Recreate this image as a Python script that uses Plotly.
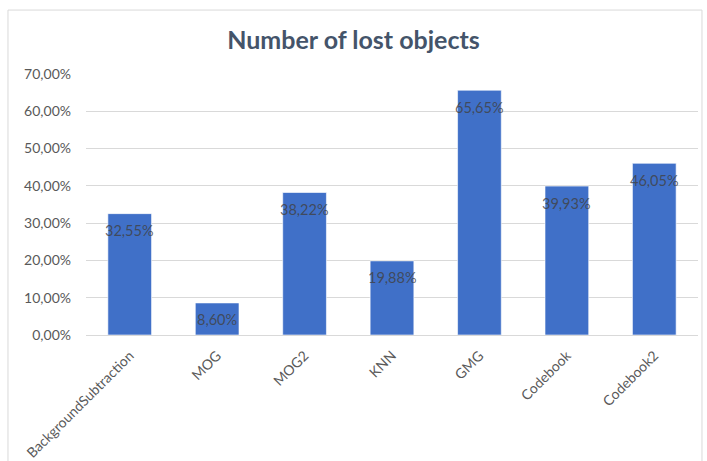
import plotly.graph_objects as go

# Lost-object rate per background subtraction method
methods = ["BackgroundSubtraction", "MOG", "MOG2", "KNN", "GMG", "Codebook", "Codebook2"]
lost_rate = [0.3255, 0.0860, 0.3822, 0.1988, 0.6565, 0.3993, 0.4605]
y_ticks = [0.0, 0.1, 0.2, 0.3, 0.4, 0.5, 0.6, 0.7]

BAR = "#4070C8"
GRID = "#D9D9D9"
TICK = "#595959"

fig = go.Figure(
    go.Bar(
        x=methods,
        y=lost_rate,
        marker=dict(color=BAR, line=dict(color="rgba(255,255,255,0.6)", width=1)),
        hoverinfo="x+y",
    )
)

# value labels sit just inside the top of each bar
for m, v in zip(methods, lost_rate):
    fig.add_annotation(
        x=m, y=v, text=f"{v * 100:.2f}%".replace(".", ","),
        showarrow=False, yanchor="middle", yshift=-17,
        font=dict(family="Lato", size=14.5, color="rgba(64,64,64,0.8)"),
    )

# outer chart border
fig.add_shape(
    type="rect", xref="paper", yref="paper",
    x0=-0.1275, x1=1.0065, y0=-0.55, y1=1.245,
    line=dict(color=GRID, width=1), fillcolor="rgba(0,0,0,0)", layer="below",
)

fig.update_layout(
    width=707, height=461,
    margin=dict(l=86, r=9, t=74, b=126, autoexpand=False),
    paper_bgcolor="white", plot_bgcolor="white",
    separators=", ",
    bargap=0.5,
    showlegend=False,
    title=dict(
        text="<b>Number of lost objects</b>",
        x=0.5, xref="container", xanchor="center",
        y=1 - 40 / 461, yref="container", yanchor="middle",
        font=dict(family="Lato", size=25, color="#44546A"),
    ),
    xaxis=dict(
        tickangle=-45,
        tickfont=dict(family="Lato", size=14, color=TICK),
        showline=True, linecolor=GRID, linewidth=1,
        showgrid=False, ticks="", automargin=False,
        ticklabelstandoff=6,
    ),
    yaxis=dict(
        range=[0, 0.7],
        tickvals=y_ticks,
        tickformat=".2%",
        tickfont=dict(family="Lato", size=14, color=TICK),
        showgrid=True, gridcolor=GRID, gridwidth=1,
        zeroline=False, showline=False, ticks="",
        ticklabelstandoff=14, automargin=False,
    ),
)

fig.write_html("out.html")
